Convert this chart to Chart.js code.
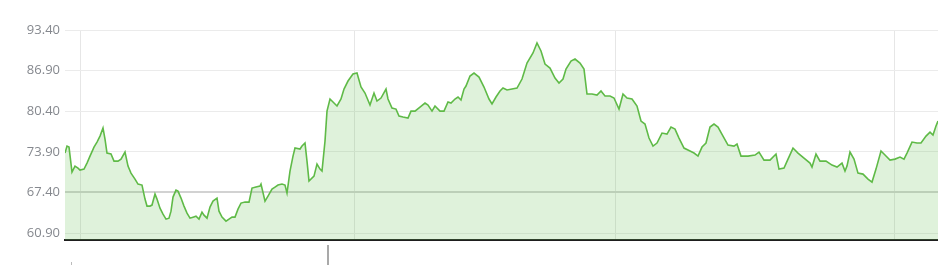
<!DOCTYPE html>
<html>
<head>
<meta charset="utf-8">
<script src="https://cdn.jsdelivr.net/npm/chart.js@4"></script>
<style>
  html, body { margin: 0; padding: 0; background: #ffffff; }
  #wrap { position: relative; width: 938px; height: 265px; overflow: hidden; }
  #c { position: absolute; left: 0; top: 0; }
  .handle { position: absolute; left: 327px; top: 245px; width: 2px; height: 20px; background: #a9a9a9; }
  .dot { position: absolute; left: 71px; top: 262px; width: 1px; height: 3px; background: #bbbbbb; }
</style>
</head>
<body>
<div id="wrap">
  <canvas id="c" width="938" height="265"></canvas>
  <div class="handle"></div>
  <div class="dot"></div>
</div>
<script>
// Sample positions (time index) and prices
const times = [0,2,4,7,10,13,15,19,22,25,29,32,35,38,40,42,46,49,53,56,60,63,66,70,73,77,80,82,85,87,90,92,95,98,101,104,106,108,111,113,116,119,122,125,128,131,134,137,139,142,145,148,152,154,157,161,164,167,170,173,176,180,184,187,191,195,196,200,203,207,210,213,217,220,222,225,228,230,235,237,240,242,244,249,252,255,257,260,262,265,268,272,276,279,283,288,292,296,300,305,309,312,316,321,323,327,331,334,338,343,346,350,355,360,363,367,370,375,379,383,386,390,393,396,399,401,405,409,414,419,424,427,431,435,438,442,447,452,457,462,468,472,476,480,485,490,494,498,501,506,510,515,519,522,527,532,536,540,545,549,554,558,562,567,572,576,580,584,588,592,597,602,606,610,614,619,625,629,633,637,641,645,649,653,658,663,669,672,676,683,690,694,699,705,711,714,719,723,728,733,739,745,747,751,755,761,767,772,777,780,782,785,789,793,798,803,807,811,816,820,825,830,835,839,842,847,852,856,861,865,868,871,873];
const prices = [73.70,74.82,74.66,70.65,71.61,71.29,70.97,71.13,72.09,73.21,74.66,75.46,76.42,77.70,75.94,73.70,73.54,72.41,72.41,72.73,73.86,71.61,70.49,69.53,68.73,68.57,66.33,65.21,65.21,65.37,67.13,66.33,64.88,63.92,63.12,63.28,64.40,66.65,67.77,67.61,66.49,65.21,64.08,63.28,63.44,63.60,63.12,64.24,63.76,63.28,65.04,66.01,66.49,64.40,63.44,62.80,63.12,63.44,63.44,64.72,65.69,65.85,65.85,68.09,68.25,68.41,68.73,66.01,66.81,67.93,68.25,68.57,68.73,68.57,67.29,70.81,73.21,74.50,74.34,74.82,75.30,72.41,69.21,70.01,71.93,71.13,70.81,75.62,80.42,82.35,81.87,81.23,82.35,83.95,85.23,86.35,86.51,84.27,83.31,81.39,83.31,82.03,82.51,83.95,82.35,80.90,80.74,79.62,79.46,79.30,80.42,80.42,81.06,81.71,81.39,80.42,81.23,80.42,80.42,81.87,81.71,82.35,82.67,82.19,83.95,84.43,86.03,86.51,85.87,84.27,82.35,81.55,82.67,83.63,84.11,83.79,83.95,84.11,85.55,88.11,89.72,91.32,90.04,87.95,87.31,85.71,84.91,85.55,87.15,88.43,88.75,88.11,87.15,83.15,83.15,82.99,83.63,82.83,82.83,82.51,80.74,83.15,82.51,82.35,81.23,78.82,78.34,76.10,74.82,75.30,76.90,76.74,77.86,77.54,76.10,74.50,74.02,73.70,73.21,74.66,75.30,77.86,78.34,77.86,76.42,74.98,74.82,75.14,73.21,73.21,73.38,73.86,72.57,72.57,73.54,71.13,71.29,72.73,74.50,73.70,72.89,72.09,71.45,73.54,72.41,72.41,71.77,71.45,72.09,70.81,71.61,73.86,72.73,70.49,70.33,69.53,69.05,71.13,74.02,73.38,72.57,72.73,73.05,72.73,73.70,75.46,75.30,75.30,76.42,77.06,76.58,78.02,78.82];
// Y tick labels and vertical grid positions (period boundaries)
const yTicks = [93.40, 86.90, 80.40, 73.90, 67.40, 60.90];
const xGridAt = [15, 289, 550, 829];
const referenceLevel = 67.40;
const yMin = 59.78, yMax = 93.40, xMin = 0, xMax = 873;

const points = times.map((t, i) => ({ x: t, y: prices[i] }));

new Chart(document.getElementById('c'), {
  type: 'line',
  data: {
    datasets: [{
      data: points,
      borderColor: '#5fba47',
      borderWidth: 1.6,
      backgroundColor: 'rgba(111,196,92,0.22)',
      fill: 'start',
      pointRadius: 0,
      tension: 0
    }]
  },
  options: {
    responsive: false,
    animation: false,
    layout: { padding: { top: 30, right: 0, bottom: 25, left: 0 } },
    plugins: { legend: { display: false }, tooltip: { enabled: false } },
    scales: {
      x: {
        type: 'linear',
        min: xMin, max: xMax,
        afterBuildTicks: (s) => { s.ticks = xGridAt.map(v => ({ value: v })); },
        ticks: { display: false },
        grid: { color: '#e6e6e6', lineWidth: 1, drawTicks: false },
        border: { display: true, color: '#1e1e1e', width: 2 }
      },
      y: {
        min: yMin, max: yMax,
        afterBuildTicks: (s) => { s.ticks = yTicks.map(v => ({ value: v })); },
        afterFit: (s) => { s.width = 65; },
        ticks: {
          padding: 5,
          color: '#85888e',
          font: { family: 'Open Sans', size: 13 },
          callback: (v) => Number(v).toFixed(2)
        },
        grid: {
          drawTicks: false,
          color: (ctx) => (ctx.tick && Math.abs(ctx.tick.value - referenceLevel) < 1e-6) ? '#d2d2d2' : '#ebebeb',
          lineWidth: (ctx) => (ctx.tick && Math.abs(ctx.tick.value - referenceLevel) < 1e-6) ? 2 : 1
        },
        border: { display: false }
      }
    }
  }
});
</script>
</body>
</html>
